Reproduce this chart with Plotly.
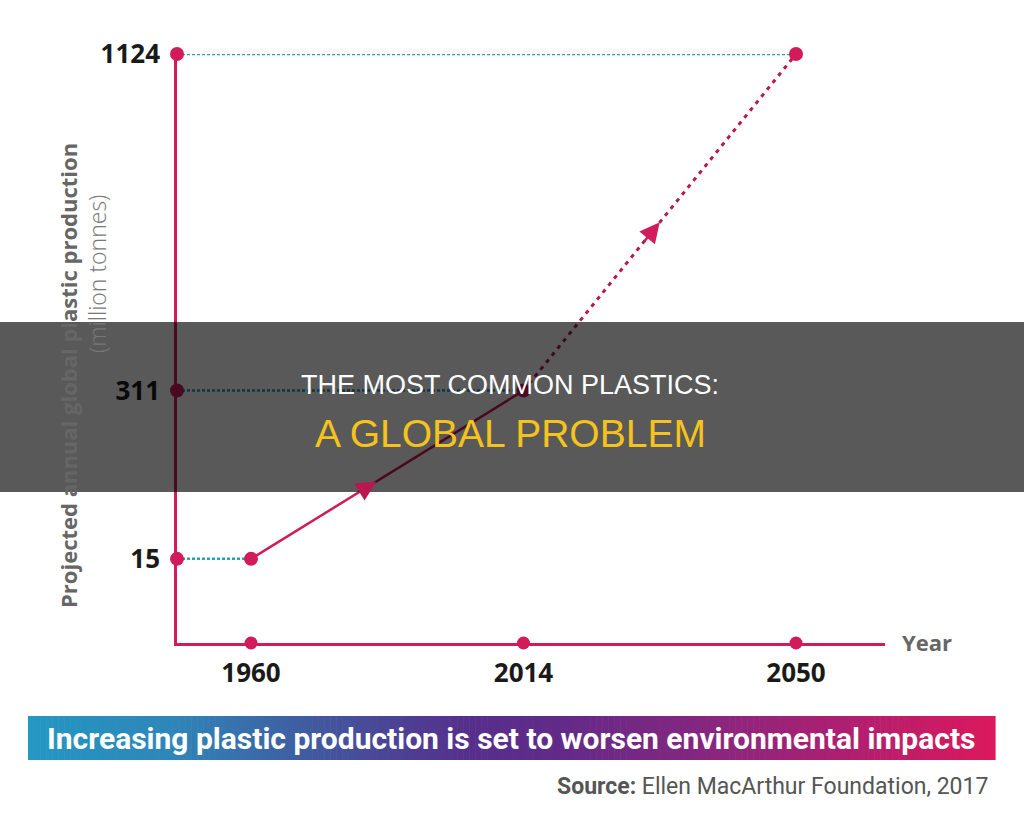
import plotly.graph_objects as go

# ---------------- data ----------------
years = ["1960", "2014", "2050"]
production = [15, 311, 1124]            # million tonnes
# y axis is schematic (not to scale): category slots, blank slot between 311 and 1124
y_tick_labels = ["15", "311", " ", "1124"]
x_title = "Year"
y_title_bold = "Projected annual global plastic production"
y_title_unit = "(million tonnes)"
banner_text = "Increasing plastic production is set to worsen environmental impacts"
source_label = "Source:"
source_text = "Ellen MacArthur Foundation, 2017"
overlay_line1 = "THE MOST COMMON PLASTICS:"
overlay_line2 = "A GLOBAL PROBLEM"

# ---------------- styles ----------------
W, H = 1024, 831
CRIMSON = "#d11b5b"
DARK_CRIMSON = "#b8174f"
TEAL = "#2a9fb5"
GRAY = "#666666"
TICK = "#1a1a1a"
FONT = "Open Sans"
NARROW = "Roboto"


def px(x):
    return x / W


def py(y):
    return 1 - y / H


y_vals = [str(v) for v in production]
y_index = {c: i for i, c in enumerate(y_tick_labels)}
XR = [-0.2716, 2.3266]
YR = [-0.5, 3.0]

fig = go.Figure()

# dots on the y axis (on an overlaid 0..1 x axis so x=0 is the axis line)
fig.add_trace(go.Scatter(
    x=[0] * len(y_vals), y=y_vals, xaxis="x2", yaxis="y", mode="markers",
    marker=dict(size=14, color=CRIMSON), cliponaxis=False, hoverinfo="skip"))
# dots on the x axis
fig.add_trace(go.Scatter(
    x=years, y=[0] * len(years), xaxis="x", yaxis="y2", mode="markers",
    marker=dict(size=13, color=CRIMSON), cliponaxis=False, hoverinfo="skip"))
# historical (solid) segment
fig.add_trace(go.Scatter(
    x=years[:2], y=y_vals[:2], mode="lines",
    line=dict(color=CRIMSON, width=2.5), cliponaxis=False))
# projected (dotted) segment
fig.add_trace(go.Scatter(
    x=years[1:], y=y_vals[1:], mode="lines",
    line=dict(color=DARK_CRIMSON, width=3, dash="4px,5px"), cliponaxis=False))
# data points
fig.add_trace(go.Scatter(
    x=years, y=y_vals, mode="markers",
    marker=dict(size=14, color=CRIMSON), cliponaxis=False))

shapes = []
# teal dotted guide lines from y axis to each point
for i, v in enumerate(y_vals):
    yi = y_index[v]
    shapes.append(dict(type="line", xref="x", yref="y", x0=XR[0], x1=i,
                       y0=yi, y1=yi, layer="below",
                       line=dict(color=TEAL, width=2.5, dash="3px,2px")))

# gradient banner (styling)
stops = [(0.0, (36, 151, 194)), (0.15, (47, 134, 184)), (0.30, (66, 88, 158)),
         (0.45, (85, 48, 140)), (0.55, (98, 42, 136)), (0.70, (134, 39, 127)),
         (0.85, (176, 31, 112)), (1.0, (220, 25, 92))]


def grad(t):
    for (t0, c0), (t1, c1) in zip(stops[:-1], stops[1:]):
        if t <= t1:
            f = (t - t0) / (t1 - t0)
            return "rgb(%d,%d,%d)" % tuple(round(a + (b - a) * f) for a, b in zip(c0, c1))
    return "rgb(%d,%d,%d)" % stops[-1][1]


bx0, bx1, by0, by1 = 28, 995, 716, 760
N = 160
for k in range(N):
    xa = bx0 + (bx1 - bx0) * k / N
    xb = bx0 + (bx1 - bx0) * (k + 1) / N + 0.6
    shapes.append(dict(type="rect", xref="paper", yref="paper",
                       x0=px(xa), x1=px(xb), y0=py(by1), y1=py(by0),
                       fillcolor=grad((k + 0.5) / N), line=dict(width=0),
                       layer="below"))

# dark overlay band
shapes.append(dict(type="rect", xref="paper", yref="paper", x0=0, x1=1,
                   y0=py(492), y1=py(322), fillcolor="rgba(0,0,0,0.65)",
                   line=dict(width=0), layer="above"))

annotations = []
# direction arrowheads along the line (positions derived from data slots)
xs = list(range(len(years)))
ys = [y_index[v] for v in y_vals]
for seg, frac in ((0, 0.46), (1, 0.50)):
    tx = xs[seg] + (xs[seg + 1] - xs[seg]) * frac
    ty = ys[seg] + (ys[seg + 1] - ys[seg]) * frac
    sx = xs[seg] + (xs[seg + 1] - xs[seg]) * (frac - 0.06)
    sy = ys[seg] + (ys[seg + 1] - ys[seg]) * (frac - 0.06)
    annotations.append(dict(x=tx, y=ty, ax=sx, ay=sy, xref="x", yref="y",
                            axref="x", ayref="y", text="", showarrow=True,
                            arrowhead=2, arrowsize=1.6, arrowwidth=2.5,
                            arrowcolor=CRIMSON if seg else DARK_CRIMSON))


def label(text, x, y, font, angle=0, xanchor="center"):
    return dict(text=text, x=px(x), y=py(y), xref="paper", yref="paper",
                xanchor=xanchor, yanchor="middle", showarrow=False,
                textangle=angle, font=font)


annotations += [
    label("<b>%s</b>" % x_title, 927, 642, dict(family=FONT, size=22, color=GRAY)),
    label("<b>%s</b>" % y_title_bold, 68, 376, dict(family=FONT, size=22, color=GRAY), -90),
    label(y_title_unit, 97, 274, dict(family=FONT, size=23, color="#777777", weight=300), -90),
    label("<b>%s</b>" % banner_text, 511, 738, dict(family=NARROW, size=30, color="white")),
    label("<b>%s</b> %s" % (source_label, source_text), 990, 786,
          dict(family=NARROW, size=23, color="#555555"), xanchor="right"),
    label(overlay_line1, 510, 385, dict(family="Liberation Sans", size=27, color="white")),
    label(overlay_line2, 510, 433, dict(family="Liberation Sans", size=39, color="#f5c31c")),
]

fig.update_layout(
    template="none",
    width=W, height=H, autosize=False,
    margin=dict(l=0, r=0, t=0, b=0, pad=0),
    paper_bgcolor="white", plot_bgcolor="white",
    showlegend=False,
    xaxis=dict(type="category", categoryorder="array", categoryarray=years,
               domain=[px(177), px(885)], range=XR, showgrid=False, zeroline=False,
               showline=True, linecolor=CRIMSON, linewidth=2.5, ticks="",
               ticklabelstandoff=5, anchor="y", automargin=False,
               tickfont=dict(family=FONT, size=26, color=TICK, weight="bold")),
    yaxis=dict(type="category", categoryorder="array", categoryarray=y_tick_labels,
               domain=[py(643), py(54)], range=YR, showgrid=False, zeroline=False,
               showline=True, linecolor=CRIMSON, linewidth=2.5, ticks="",
               ticklabelstandoff=9, anchor="x", automargin=False,
               tickfont=dict(family=FONT, size=26, color=TICK, weight="bold")),
    xaxis2=dict(overlaying="x", anchor="y", range=[0, 1], visible=False, automargin=False),
    yaxis2=dict(overlaying="y", anchor="x", range=[0, 1], visible=False, automargin=False),
    shapes=shapes, annotations=annotations,
)

fig.write_html("out.html")
